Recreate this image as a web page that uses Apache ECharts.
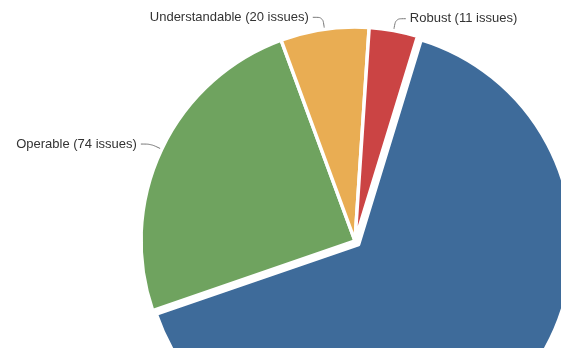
<!DOCTYPE html>
<html>
<head>
<meta charset="utf-8">
<style>
  html, body { margin: 0; padding: 0; background: #fff; }
  #chart { width: 561px; height: 348px; }
</style>
<script src="https://cdn.jsdelivr.net/npm/echarts@6/dist/echarts.min.js"></script>
</head>
<body>
<div id="chart"></div>
<script>
// issues per principle, clockwise from the blue slice
const names = ["Perceivable", "Operable", "Understandable", "Robust"];
const issues = [195, 74, 20, 11];
const colors = ["#3e6b9a", "#6fa35f", "#e9ad53", "#cb4444"];

const chartEl = document.getElementById("chart");
let myChart = echarts.init(chartEl, null, { renderer: "canvas" });

const seriesData = names.map((n, i) => ({
    name: n,
    value: issues[i],
    selected: i === 0,
    itemStyle: { color: colors[i] },
    label: { show: i !== 0 },
    labelLine: { show: i !== 0 },
}));

const option = {
    animation: false,
    series: [
        {
            type: "pie",
            center: [355, 241],
            radius: 214,
            startAngle: 73,
            clockwise: true,
            selectedMode: "single",
            selectedOffset: 5,
            avoidLabelOverlap: false,
            itemStyle: { borderColor: "#fff", borderWidth: 3.5 },
            label: {
                formatter: (p) => `${p.name} (${p.value} issues)`,
                color: "#333",
                fontFamily: "Liberation Sans, Arial, sans-serif",
                fontSize: 13,
                distanceToLabelLine: 4,
            },
            labelLine: {
                length: 12,
                length2: 10,
                smooth: 0.3,
                lineStyle: { color: "#777", width: 1 },
            },
            emphasis: { disabled: true },
            data: seriesData,
        },
    ],
};

myChart.setOption(option);
</script>
</body>
</html>
